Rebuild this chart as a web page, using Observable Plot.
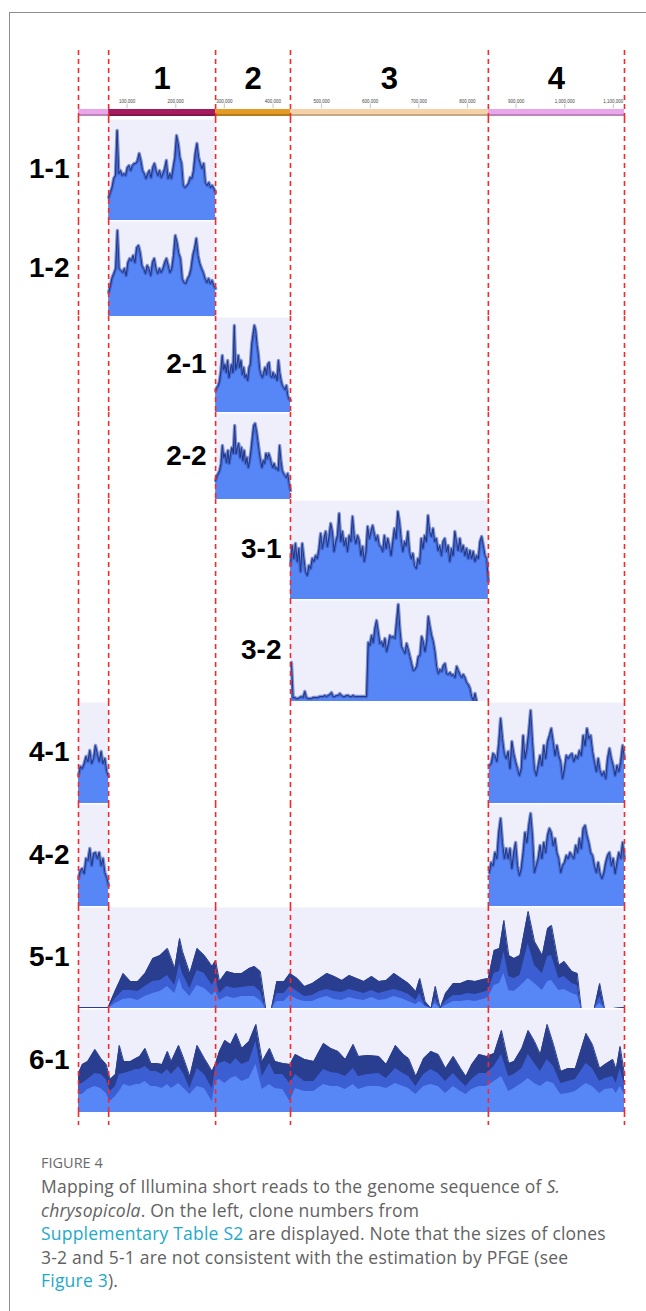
<!DOCTYPE html>
<html><head><meta charset="utf-8">
<script src="https://cdn.jsdelivr.net/npm/d3@7"></script>
<script src="https://cdn.jsdelivr.net/npm/@observablehq/plot@0.6"></script>
<style>
html,body{margin:0;padding:0;background:#fff;}
body{width:646px;height:1311px;overflow:hidden;position:relative;font-family:"Open Sans",sans-serif;}
#frame{position:absolute;left:9px;top:12px;width:800px;height:1500px;border-left:1px solid #8c8c8c;border-top:1px solid #8c8c8c;box-sizing:border-box;}
#chart{position:absolute;left:0;top:0;width:646px;}
#chart svg{display:block;}
#figlab{position:absolute;left:41px;top:1153px;font-size:14.5px;line-height:20px;color:#6b6b6b;white-space:nowrap;}
#captxt{position:absolute;left:41px;top:1175px;font-size:17.5px;letter-spacing:0.22px;line-height:23.6px;color:#626262;white-space:nowrap;}
#captxt a{color:#23a9c8;text-decoration:none;}
</style>
</head><body>
<div id="frame"></div>
<div id="chart"></div>
<div id="figlab">FIGURE 4</div>
<div id="captxt">Mapping of Illumina short reads to the genome sequence of <i>S.</i><br><i>chrysopicola</i>. On the left, clone numbers from<br><a>Supplementary Table S2</a> are displayed. Note that the sizes of clones<br>3-2 and 5-1 are not consistent with the estimation by PFGE (see<br><a>Figure 3</a>).</div>
<script>
// ---------------- DATA ----------------
const genomeKb = 1123;
const boundariesKb = [0, 62, 282, 436, 843, 1123];
const barStartKb = [0, 62, 282, 436, 843];
const barEndKb = [62, 282, 436, 843, 1123];
const segmentLabels = ["1", "2", "3", "4"];
const segmentStartKb = [62, 282, 436, 843];
const segmentEndKb = [282, 436, 843, 1123];
const tickKb = [100, 200, 300, 400, 500, 600, 700, 800, 900, 1000, 1100];
const tickLabels = ["100,000","200,000","300,000","400,000","500,000","600,000","700,000","800,000","900,000","1,000,000","1,100,000"];

const rowLabels = ["1-1","1-2","2-1","2-2","3-1","3-2","4-1","4-2","5-1","6-1"];
const labelAtKb = [0, 0, 282, 282, 436, 436, 0, 0, 0, 0];
const cloneSpans = [
  [[62,282]], [[62,282]], [[282,436]], [[282,436]], [[436,843]], [[436,843]],
  [[0,62],[843,1123]], [[0,62],[843,1123]], [[0,1123]], [[0,1123]]
];

// relative read depth, evenly spaced bins along each track
const cov11 = [23,28,33,42,45,90,47,50,45,47,45,53,55,50,55,57,57,60,67,60,50,47,42,47,50,43,53,57,50,45,50,43,47,52,60,42,47,42,53,63,85,77,63,57,35,33,35,37,43,42,50,67,77,63,57,52,57,38,35,38,33,35,32,28];
const cov12 = [24,31,39,43,48,86,48,46,44,48,41,54,58,56,61,54,69,71,64,51,48,43,51,48,41,54,58,48,43,48,44,48,54,58,51,44,48,61,81,74,63,58,38,34,33,38,41,48,61,68,78,61,53,48,44,38,34,38,33,36,31,28];
const cov21 = [22,25,27,32,42,57,43,48,40,52,35,42,48,40,87,43,48,57,45,52,38,45,35,38,32,45,48,68,78,87,82,68,58,43,38,35,40,45,38,48,50,37,35,40,35,38,32,52,40,32,27,25,23,27,17,13,12];
const cov22 = [19,24,26,29,36,54,42,46,37,49,36,46,52,46,74,46,52,56,42,52,39,49,36,42,32,39,49,62,74,76,69,59,49,39,32,39,36,46,41,46,42,36,32,36,31,32,29,54,39,29,26,24,22,26,16,9];
const cov31 = [34,54,41,56,38,51,28,56,41,28,24,34,31,41,38,44,41,51,66,51,61,68,53,63,76,68,48,58,64,86,58,68,54,61,48,64,58,83,64,56,64,59,44,53,38,48,73,61,68,74,66,59,64,54,53,48,64,51,61,54,44,58,71,61,88,78,61,48,58,54,68,48,41,46,34,31,41,36,61,51,64,58,84,68,63,71,58,61,49,54,44,58,61,48,54,38,51,44,68,58,49,61,48,54,44,51,41,49,41,48,38,44,41,58,63,54,44,41,18];
const cov32 = [39,4,4,3,3,4,5,4,10,4,3,3,3,4,4,4,4,5,5,5,6,5,6,7,9,5,5,6,6,8,6,5,5,6,6,5,5,6,5,5,5,5,5,5,5,5,59,56,66,59,73,81,70,58,60,55,63,50,57,66,64,65,63,80,97,72,55,52,48,58,52,45,38,31,32,35,45,46,65,60,50,60,85,75,66,60,50,35,28,32,30,36,38,28,27,29,26,27,24,35,31,27,24,27,24,19,17,13,5,1,8,0];
const cov41L = [28,37,35,40,47,42,53,40,45,58,50,42,52,40,45,32,27];
const cov41R = [38,40,50,48,42,60,85,65,50,45,52,35,62,50,42,35,28,35,68,45,55,72,93,62,35,28,38,48,38,58,45,62,68,75,62,48,58,48,42,25,35,48,45,48,50,42,48,45,53,48,68,58,75,65,68,52,42,32,45,33,28,32,25,45,55,45,38,28,38,32,42,58,45];
const cov42L = [28,36,38,33,48,46,58,41,53,54,48,54,41,48,34,29,21];
const cov42R = [34,44,41,54,48,74,88,64,48,58,48,58,38,54,64,41,31,38,54,74,64,81,93,71,34,41,48,61,48,64,54,71,78,74,61,68,54,48,34,41,44,51,48,54,51,48,61,54,68,58,78,81,71,64,54,51,41,34,44,33,28,34,44,51,54,41,48,33,44,54,48,64,48];

// clone 5-1 and 6-1: positions (kb) with max / mean / min depth
const pos51 = [0,15,31,46,61,76,92,107,122,137,153,168,183,198,208,214,229,244,259,275,282,290,305,320,336,351,362,374,385,397,408,423,435,450,465,481,496,511,526,542,557,572,587,603,618,633,649,664,679,694,702,713,725,734,744,755,771,786,801,816,832,843,855,866,875,885,896,908,925,938,954,965,973,988,999,1015,1026,1034,1061,1072,1082,1099,1122];
const max51 = [1,1,1,1,1,18,35,27,27,35,50,53,60,40,70,57,35,60,53,42,48,27,37,35,35,40,42,37,0,0,27,27,35,30,22,25,30,35,32,28,33,30,27,32,27,28,35,30,25,17,30,7,0,22,0,15,25,25,28,27,29,30,58,60,88,53,50,53,97,67,53,80,83,43,47,37,35,0,0,25,0,0,1];
const mid51 = [0,0,0,0,0,10,18,18,17,22,27,28,33,23,45,35,20,38,35,23,30,15,22,20,21,22,22,17,0,0,15,15,22,17,12,13,17,19,17,16,19,17,15,18,15,17,19,17,14,8,15,3,0,10,0,7,13,13,15,14,16,18,35,37,57,32,30,33,65,43,35,52,53,30,32,25,23,0,0,12,0,0,0];
const min51 = [0,0,0,0,0,5,9,10,8,12,15,17,22,15,30,20,12,23,20,13,17,8,12,10,12,12,12,8,0,0,7,7,13,9,7,7,10,12,9,8,11,9,8,11,8,9,12,10,7,4,7,2,0,5,0,3,7,7,8,7,9,11,23,25,35,18,17,22,30,25,18,27,28,18,19,15,13,0,0,5,0,0,0];
const pos61 = [0,8,19,34,46,57,65,76,84,93,107,118,126,137,149,160,172,183,191,206,217,229,244,259,275,282,290,301,313,324,336,351,365,378,393,404,420,435,446,465,484,504,519,534,549,565,576,595,618,633,652,668,679,694,710,725,740,755,771,786,797,809,824,839,855,870,885,896,912,925,938,950,964,977,992,1007,1022,1044,1057,1072,1083,1099,1106,1114,1123];
const max61 = [39,48,51,63,54,48,33,38,67,51,51,54,56,64,49,49,48,61,51,67,53,36,67,54,41,49,61,72,68,79,64,71,88,51,64,51,49,48,58,53,51,69,64,61,53,68,56,57,56,48,67,58,54,36,54,61,58,44,56,44,36,48,58,56,59,82,49,51,64,82,71,58,88,68,41,44,44,79,68,44,48,53,43,66,38];
const mid61 = [28,29,33,39,38,33,21,26,38,39,41,43,43,46,41,41,38,43,38,46,38,24,44,38,24,44,49,51,48,54,48,51,71,36,49,38,38,29,38,31,31,43,40,39,36,44,36,38,39,34,44,39,36,26,38,43,39,31,39,31,26,33,39,39,46,58,36,38,44,58,49,41,53,46,29,31,33,49,44,31,34,36,29,44,28];
const min61 = [18,18,23,26,24,19,11,16,21,28,26,28,28,31,26,26,24,28,24,29,24,18,26,24,11,31,33,29,34,36,31,34,48,23,28,24,23,11,24,21,21,28,26,26,23,28,23,26,26,24,29,26,24,18,26,28,26,19,26,21,18,23,26,26,31,36,21,24,29,34,29,26,31,29,18,19,21,29,26,19,23,24,19,26,18];

// tracks per row: evenly binned tracks
const binnedTracks = {
  "1-1": [{start:62, end:282, values:cov11}],
  "1-2": [{start:62, end:282, values:cov12}],
  "2-1": [{start:282, end:436, values:cov21}],
  "2-2": [{start:282, end:436, values:cov22}],
  "3-1": [{start:436, end:843, values:cov31}],
  "3-2": [{start:438, end:819, values:cov32}],
  "4-1": [{start:0, end:62, values:cov41L}, {start:845, end:1123, values:cov41R}],
  "4-2": [{start:0, end:62, values:cov42L}, {start:845, end:1123, values:cov42R}]
};
const layeredTracks = {
  "5-1": {pos:pos51, max:max51, mid:mid51, min:min51},
  "6-1": {pos:pos61, max:max61, mid:mid61, min:min61}
};

// ---------------- LAYOUT / STYLE ----------------
const W = 646, ML = 78, MR = 22;
const rowHeights = [102,96,96,87,100,102,102,103,102,104];
const barColors = ["#eaa6ea","#a5195e","#e39b25","#f6d1a7","#eaa6ea"];
const BG = "#efeffb", FILL = "#5787f7", EDGE = "#1f3584", BAND = "#3452b6";
const MAXC = "#293e8f", MIDC = "#3b5fd2", MINC = "#5787f7";
const RED = "#f42a2a";
const FONT = "Liberation Sans, Arial, sans-serif";
const xScale = {domain:[0, genomeKb], axis:null};
const redRules = () => Plot.ruleX(boundariesKb, {stroke:RED, strokeWidth:1.6, strokeDasharray:"5,4"});

const chart = document.getElementById("chart");

// header: genome bar with segment numbers
const barData = barStartKb.map((s,i)=>({start:s, end:barEndKb[i], color:barColors[i]}));
const segData = segmentLabels.map((l,i)=>({label:l, mid:(segmentStartKb[i]+segmentEndKb[i])/2}));
const tickData = tickKb.map((k,i)=>({kb:k, label:tickLabels[i]}));
chart.appendChild(Plot.plot({
  width:W, height:118, marginLeft:ML, marginRight:MR, marginTop:50, marginBottom:0,
  x:xScale, color:{type:"identity"},
  marks:[
    Plot.rect(barData, {x1:"start", x2:"end", fill:"color", insetTop:59, insetBottom:2}),
    Plot.rect(barData, {x1:"start", x2:"end", fill:"#000", fillOpacity:0.2, insetTop:64, insetBottom:2}),
    Plot.text(segData, {x:"mid", text:"label", frameAnchor:"top", lineAnchor:"middle", dy:29, fontSize:31, fontWeight:"bold", fontFamily:FONT, fill:"#000"}),
    Plot.text(tickData, {x:"kb", text:"label", frameAnchor:"top", lineAnchor:"middle", dy:51, fontSize:4.5, fontFamily:FONT, fill:"#444"}),
    Plot.text(tickData, {x:"kb", text:()=>"|", frameAnchor:"top", lineAnchor:"middle", dy:55.5, fontSize:4, fontFamily:FONT, fill:"#444"}),
    redRules()
  ]
}));

// clone rows
rowLabels.forEach((label, r) => {
  const h = rowHeights[r];
  const spans = cloneSpans[r].map(([a,b])=>({a,b}));
  const marks = [Plot.rect(spans, {x1:"a", x2:"b", fill:BG, insetTop:1.5})];
  if (binnedTracks[label]) {
    binnedTracks[label].forEach(t => {
      const n = t.values.length;
      const d = t.values.map((v,i)=>({x: t.start + i*(t.end-t.start)/(n-1), v}));
      marks.push(Plot.areaY(d, {x:"x", y:"v", fill:FILL}));
      marks.push(Plot.lineY(d, {x:"x", y:"v", stroke:BAND, strokeWidth:3.4, strokeOpacity:0.6}));
      marks.push(Plot.lineY(d, {x:"x", y:"v", stroke:EDGE, strokeWidth:1}));
    });
  } else {
    const L = layeredTracks[label];
    const d = L.pos.map((p,i)=>({x:p, max:L.max[i], mid:L.mid[i], min:L.min[i]}));
    marks.push(Plot.areaY(d, {x:"x", y:"max", fill:MAXC}));
    marks.push(Plot.areaY(d, {x:"x", y:"mid", fill:MIDC}));
    marks.push(Plot.areaY(d, {x:"x", y:"min", fill:MINC}));
    marks.push(Plot.lineY(d, {x:"x", y:"max", stroke:MAXC, strokeWidth:1}));
  }
  marks.push(redRules());
  marks.push(Plot.text([{x:labelAtKb[r], label}], {x:"x", text:"label", textAnchor:"end", lineAnchor:"middle", dx:-9, fontSize:28, fontWeight:"bold", fontFamily:FONT, fill:"#000"}));
  chart.appendChild(Plot.plot({
    width:W, height:h, marginLeft:ML, marginRight:MR, marginTop:0, marginBottom:0,
    x:xScale, y:{domain:[0,h], axis:null},
    marks
  }));
});

// footer: tail of the dashed guides
chart.appendChild(Plot.plot({
  width:W, height:18, marginLeft:ML, marginRight:MR, marginTop:0, marginBottom:5,
  x:xScale, marks:[redRules()]
}));
</script>
</body></html>
